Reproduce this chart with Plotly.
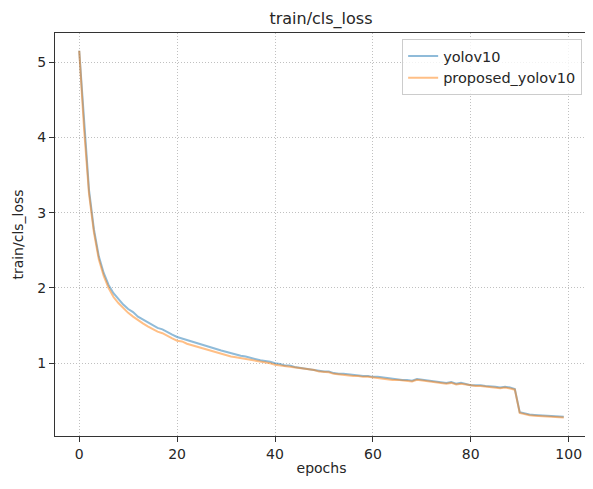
import plotly.graph_objects as go

epochs = list(range(100))

yolov10 = [
    5.15, 4.15, 3.30, 2.78, 2.42, 2.20, 2.04, 1.93, 1.85, 1.78,
    1.72, 1.68, 1.62, 1.58, 1.55, 1.50, 1.47, 1.45, 1.41, 1.38,
    1.35, 1.33, 1.30, 1.28, 1.26, 1.25, 1.23, 1.21, 1.19, 1.17,
    1.15, 1.13, 1.12, 1.10, 1.09, 1.07, 1.06, 1.04, 1.03, 1.02,
    1.00, 0.99, 0.97, 0.97, 0.95, 0.94, 0.93, 0.92, 0.92, 0.90,
    0.89, 0.89, 0.87, 0.86, 0.86, 0.85, 0.84, 0.84, 0.83, 0.83,
    0.82, 0.82, 0.81, 0.80, 0.79, 0.79, 0.78, 0.78, 0.77, 0.79,
    0.78, 0.77, 0.76, 0.75, 0.75, 0.74, 0.75, 0.73, 0.74, 0.73,
    0.71, 0.71, 0.71, 0.70, 0.70, 0.69, 0.68, 0.69, 0.68, 0.66,
    0.35, 0.33, 0.32, 0.315, 0.31, 0.305, 0.30, 0.30, 0.295, 0.29,
]

proposed_yolov10 = [
    5.15, 4.10, 3.25, 2.74, 2.38, 2.16, 2.00, 1.88, 1.80, 1.73,
    1.67, 1.62, 1.57, 1.53, 1.49, 1.45, 1.42, 1.40, 1.36, 1.33,
    1.30, 1.29, 1.26, 1.24, 1.22, 1.20, 1.18, 1.16, 1.15, 1.13,
    1.11, 1.09, 1.08, 1.07, 1.06, 1.04, 1.03, 1.02, 1.01, 1.00,
    0.98, 0.97, 0.96, 0.95, 0.94, 0.93, 0.92, 0.91, 0.91, 0.89,
    0.88, 0.88, 0.86, 0.85, 0.85, 0.84, 0.83, 0.83, 0.82, 0.82,
    0.81, 0.81, 0.80, 0.79, 0.78, 0.78, 0.77, 0.77, 0.76, 0.78,
    0.77, 0.76, 0.75, 0.74, 0.74, 0.73, 0.74, 0.72, 0.73, 0.72,
    0.70, 0.70, 0.70, 0.69, 0.69, 0.68, 0.67, 0.68, 0.67, 0.65,
    0.34, 0.32, 0.31, 0.305, 0.30, 0.295, 0.29, 0.29, 0.285, 0.28,
]

x_ticks = [0, 20, 40, 60, 80, 100]
y_ticks = [1, 2, 3, 4, 5]

FONT = "DejaVu Sans"
TXT = "#262626"

fig = go.Figure()
fig.add_trace(go.Scatter(
    x=epochs, y=yolov10, mode="lines", name="yolov10",
    line=dict(color="rgba(31,119,180,0.5)", width=2),
))
fig.add_trace(go.Scatter(
    x=epochs, y=proposed_yolov10, mode="lines", name="proposed_yolov10",
    line=dict(color="rgba(255,127,14,0.5)", width=2),
))

axis_common = dict(
    automargin=False,
    showline=True, linecolor="#333333", linewidth=1.2, mirror=True,
    ticks="outside", ticklen=5, tickwidth=1, tickcolor="#333333",
    showgrid=True, gridcolor="#c0c0c0", gridwidth=1, griddash="1px,2px",
    zeroline=False, tickfont=dict(family=FONT, size=14, color=TXT),
)

# page body has an 8px margin, so the figure is sized to fill the rest of the window
fig.update_layout(
    width=585, height=481,
    margin=dict(l=47, r=5, t=25, b=53),
    paper_bgcolor="white", plot_bgcolor="white",
    font=dict(family=FONT, size=14, color=TXT),
    title=dict(text="train/cls_loss", x=0.535, xanchor="center", y=0.99, yanchor="top",
               font=dict(family=FONT, size=16, color=TXT)),
    xaxis=dict(range=[-4.95, 103.95], tickvals=x_ticks,
               title=dict(text="epochs", font=dict(family=FONT, size=14, color=TXT), standoff=2),
               **axis_common),
    yaxis=dict(range=[0.035, 5.385], tickvals=y_ticks,
               title=dict(text="train/cls_loss", font=dict(family=FONT, size=14, color=TXT), standoff=10),
               **axis_common),
    legend=dict(x=0.989, xanchor="right", y=0.985, yanchor="top",
                bordercolor="#cccccc", borderwidth=1, bgcolor="rgba(255,255,255,0.8)",
                font=dict(family=FONT, size=14.5, color=TXT)),
    showlegend=True,
)

fig.write_html("out.html")
